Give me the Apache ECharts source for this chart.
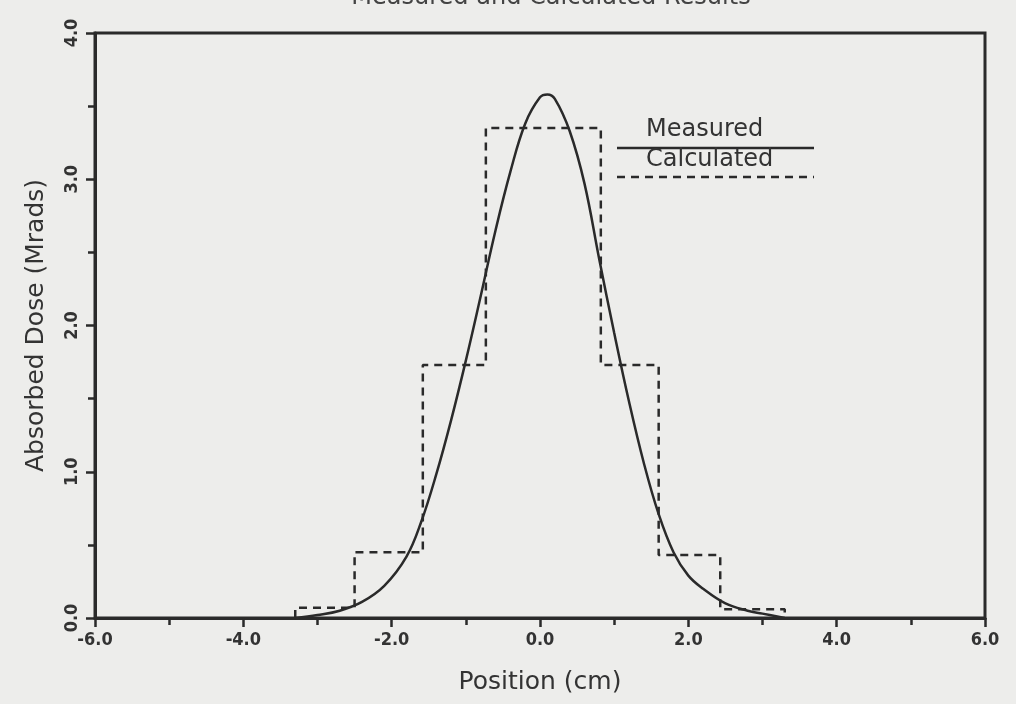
<!DOCTYPE html>
<html>
<head>
<meta charset="utf-8">
<script src="https://cdn.jsdelivr.net/npm/echarts@6/dist/echarts.min.js"></script>
<style>
html,body{margin:0;padding:0;background:#ededeb;}
#chart{width:1016px;height:704px;}
</style>
</head>
<body>
<div id="chart"></div>
<script>
// Measured curve (Position cm, Absorbed Dose Mrads)
var measuredX = [-3.3,-3.0,-2.7,-2.4,-2.1,-1.8,-1.6,-1.4,-1.2,-1.0,-0.8,-0.6,-0.4,-0.2,0.0,0.1,0.2,0.4,0.6,0.8,1.0,1.2,1.4,1.6,1.8,2.0,2.2,2.5,2.8,3.0,3.3];
var measuredY = [0.0,0.02,0.05,0.11,0.22,0.42,0.66,0.98,1.35,1.76,2.2,2.65,3.05,3.38,3.56,3.58,3.55,3.33,2.97,2.45,1.95,1.48,1.06,0.71,0.45,0.29,0.2,0.1,0.05,0.03,0.0];
// Calculated histogram: bin edges and levels
var calcEdges = [-3.3,-2.5,-1.58,-0.73,0.82,1.6,2.43,3.3];
var calcLevels = [0.07,0.45,1.73,3.35,1.73,0.43,0.06];
// Axis ticks
var xTicks = {min:-6, max:6, interval:2};
var yTicks = {min:0, max:4, interval:1};
var titleText = 'Measured and Calculated Results';
var xName = 'Position (cm)';
var yName = 'Absorbed Dose (Mrads)';
var legendNames = ['Measured','Calculated'];

var measuredData = measuredX.map(function(x,i){return [x, measuredY[i]];});
var calcData = [[calcEdges[0],0]];
for (var i=0;i<calcLevels.length;i++){
  calcData.push([calcEdges[i],calcLevels[i]]);
  calcData.push([calcEdges[i+1],calcLevels[i]]);
}
calcData.push([calcEdges[calcEdges.length-1],0]);

var ink = '#2a2a2a';
var chart = echarts.init(document.getElementById('chart'));
chart.setOption({
  backgroundColor:'#ededeb',
  animation:false,
  title:{text:titleText,left:546,textAlign:'center',top:-19,
    textStyle:{fontFamily:'DejaVu Sans',fontSize:24,fontWeight:'normal',color:'#444'}},
  grid:{left:95,right:31,top:33,bottom:86,show:true,borderColor:ink,borderWidth:3,backgroundColor:'transparent'},
  xAxis:{type:'value',min:xTicks.min,max:xTicks.max,interval:xTicks.interval,
    name:xName,nameLocation:'middle',nameGap:52,
    nameTextStyle:{fontFamily:'DejaVu Sans',fontSize:25,color:'#333'},
    axisLine:{show:true,onZero:false,lineStyle:{color:ink,width:3}},
    axisTick:{show:true,length:9,lineStyle:{color:ink,width:2.5}},
    minorTick:{show:true,splitNumber:2,length:7,lineStyle:{color:ink,width:2.5}},
    splitLine:{show:false},
    axisLabel:{margin:13,fontFamily:'DejaVu Sans Condensed',fontWeight:'bold',fontSize:18,color:'#333',
      formatter:function(v){return v.toFixed(1);}}},
  yAxis:{type:'value',min:yTicks.min,max:yTicks.max,interval:yTicks.interval,
    name:yName,nameLocation:'middle',nameGap:46,nameRotate:90,
    nameTextStyle:{fontFamily:'DejaVu Sans',fontSize:25,color:'#333'},
    axisLine:{show:true,onZero:false,lineStyle:{color:ink,width:3}},
    axisTick:{show:true,length:9,lineStyle:{color:ink,width:2.5}},
    minorTick:{show:true,splitNumber:2,length:7,lineStyle:{color:ink,width:2.5}},
    splitLine:{show:false},
    axisLabel:{rotate:90,margin:14,fontFamily:'DejaVu Sans Condensed',fontWeight:'bold',fontSize:18,color:'#333',
      formatter:function(v){return v.toFixed(1);}}},
  series:[
    {name:legendNames[1],type:'line',data:calcData,symbol:'none',
      lineStyle:{color:ink,width:2.5,type:[8,6]}},
    {name:legendNames[0],type:'line',data:measuredData,symbol:'none',smooth:0.4,
      lineStyle:{color:ink,width:2.5}}
  ],
  graphic:[
    {type:'text',left:646,top:118,style:{text:legendNames[0],fontFamily:'DejaVu Sans',fontSize:24,fill:'#333'}},
    {type:'line',shape:{x1:617,y1:148,x2:814,y2:148},style:{stroke:ink,lineWidth:2.5}},
    {type:'text',left:646,top:148,style:{text:legendNames[1],fontFamily:'DejaVu Sans',fontSize:24,fill:'#333'}},
    {type:'line',shape:{x1:617,y1:177,x2:814,y2:177},style:{stroke:ink,lineWidth:2.5,lineDash:[8,6]}}
  ]
});
</script>
</body>
</html>
